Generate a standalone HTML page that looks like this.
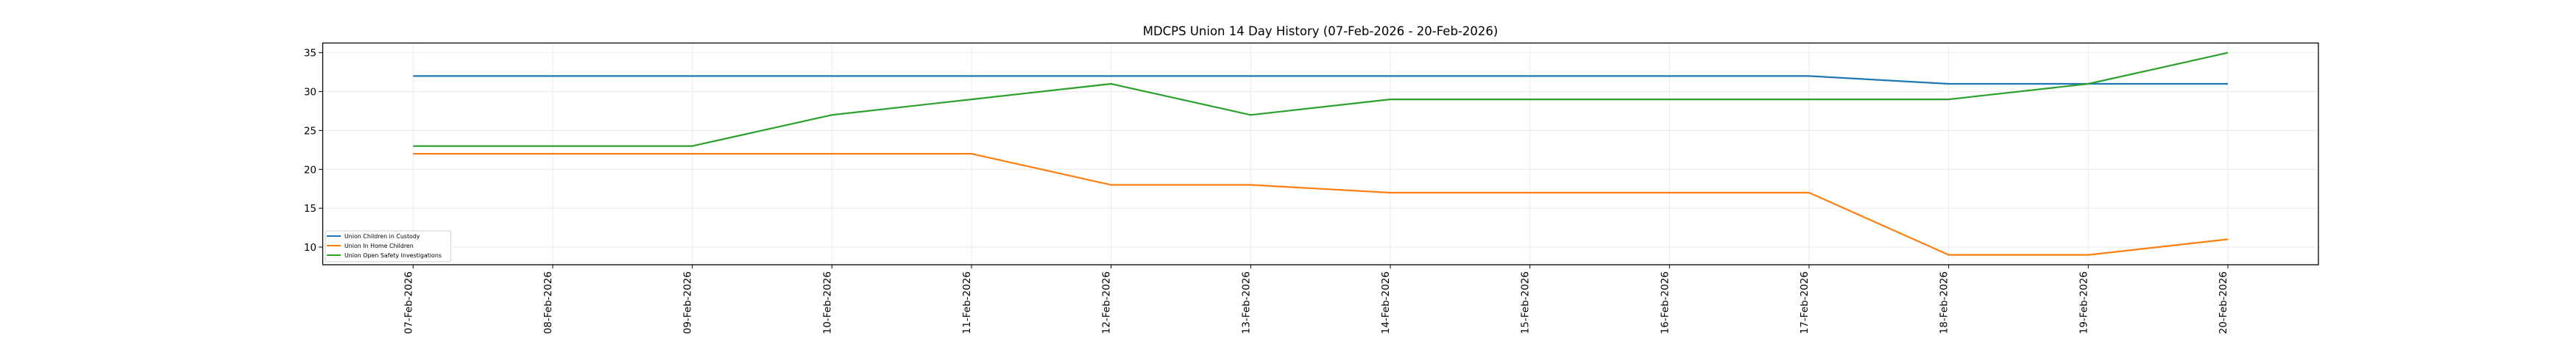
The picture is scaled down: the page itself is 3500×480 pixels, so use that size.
<!DOCTYPE html>
<html><head><meta charset="utf-8"><style>html,body{margin:0;padding:0;background:#fff}svg{display:block}</style></head>
<body>
<svg width="3500" height="480" xmlns="http://www.w3.org/2000/svg" font-family="DejaVu Sans, Liberation Sans, sans-serif">
<rect width="3500" height="480" fill="#fff"/>
<g id="grid" stroke="#ebebeb" stroke-width="1"></g>
<g id="series" fill="none" stroke-width="2.2" stroke-linejoin="round"></g>
<rect x="438.5" y="58.5" width="2711.5" height="301.5" fill="none" stroke="#000" stroke-width="1.3"/>
<g id="ticks" stroke="#000" stroke-width="1"></g>
<g id="labels" font-size="13.5" fill="#000"></g>
<text x="1794" y="48" text-anchor="middle" font-size="16.5">MDCPS Union 14 Day History (07-Feb-2026 - 20-Feb-2026)</text>
<g>
<rect x="442" y="314" width="170.5" height="42" rx="2" fill="#fff" fill-opacity="0.8" stroke="#d0d0d0" stroke-width="1"/>
<line x1="444" y1="321" x2="463" y2="321" stroke="#1f77b4" stroke-width="2"/>
<line x1="444" y1="334" x2="463" y2="334" stroke="#ff7f0e" stroke-width="2"/>
<line x1="444" y1="347" x2="463" y2="347" stroke="#2ca02c" stroke-width="2"/>
<g font-size="7.9" fill="#000">
<text x="468" y="324">Union Children in Custody</text>
<text x="468" y="337">Union In Home Children</text>
<text x="468" y="350">Union Open Safety Investigations</text>
</g>
</g>
<script>
(function(){
var ns="http://www.w3.org/2000/svg";
function X(i){return 561.3+i*189.67;}
function Y(v){return 336-(v-10)*10.573;}
var grid=document.getElementById('grid'),ticks=document.getElementById('ticks'),labels=document.getElementById('labels'),series=document.getElementById('series');
function el(p,t,a,txt){var e=document.createElementNS(ns,t);for(var k in a)e.setAttribute(k,a[k]);if(txt)e.textContent=txt;p.appendChild(e);return e;}
var dates=["07","08","09","10","11","12","13","14","15","16","17","18","19","20"];
for(var i=0;i<14;i++){var x=X(i);
el(grid,'line',{x1:x,y1:59,x2:x,y2:360});
el(ticks,'line',{x1:x,y1:360,x2:x,y2:365});
el(labels,'text',{x:0,y:0,transform:'translate('+(x-2)+',369) rotate(-90)','text-anchor':'end'},dates[i]+"-Feb-2026");}
for(var v=10;v<=35;v+=5){var y=Y(v);
el(grid,'line',{x1:439,y1:y,x2:3150,y2:y});
el(ticks,'line',{x1:433,y1:y,x2:438,y2:y});
el(labels,'text',{x:430,y:y+5,'text-anchor':'end'},String(v));}
var d={"#1f77b4":[32,32,32,32,32,32,32,32,32,32,32,31,31,31],
"#ff7f0e":[22,22,22,22,22,18,18,17,17,17,17,9,9,11],
"#2ca02c":[23,23,23,27,29,31,27,29,29,29,29,29,31,35]};
for(var c in d){var pts=d[c].map(function(v,i){return X(i).toFixed(1)+","+Y(v).toFixed(1);}).join(" ");
el(series,'polyline',{points:pts,stroke:c});}
})();
</script>
</svg>
</body></html>
